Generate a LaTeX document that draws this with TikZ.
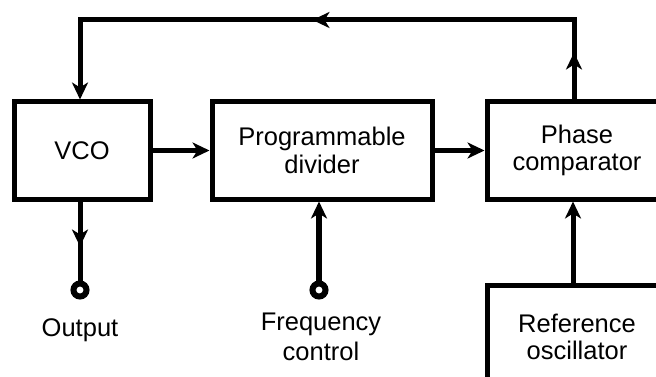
\documentclass[tikz,border=0pt]{standalone}
\usepackage{fontspec}
\setmainfont{Liberation Sans}
\usetikzlibrary{arrows.meta,decorations.markings}
\begin{document}
\begin{tikzpicture}[x=1pt,y=-1pt,
  blk/.style={draw, line width=5pt, rectangle, align=center, inner sep=0pt,
    font=\fontsize{25.5}{27.5}\selectfont},
  lbl/.style={align=center, inner sep=0pt, font=\fontsize{25.5}{30}\selectfont},
  wire/.style={line width=5pt},
  tip/.style={-{Stealth[length=17pt,width=16pt,inset=5pt]}},
  terminal/.style={circle, draw, line width=6pt, minimum size=13pt, inner sep=0pt, fill=white}
]
\clip (0,0) rectangle (656,377);
\fill[white] (0,0) rectangle (656,377);
\node[blk, minimum width=136pt, minimum height=97pt] (vco) at (82,150.5) {VCO};
\node[blk, minimum width=220pt, minimum height=97pt] (div) at (322,150.5) {Programmable\\divider};
\node[blk, minimum width=180pt, minimum height=97pt] (pc) at (577,150.5) {Phase\\comparator};
\node[blk, minimum width=180pt, minimum height=104pt] (ref) at (577,337) {Reference\\oscillator};
\node[terminal] (out) at (80,290) {};
\node[terminal] (fc) at (319,290) {};
\node[lbl] (outl) at (80,330) {Output};
\node[lbl] (fcl) at (321,337) {Frequency\\control};
\coordinate (c1) at (574,20);
\coordinate (c2) at (80,20);
% feedback loop
\draw[wire, tip, postaction={decorate}, decoration={markings,
   mark=at position 47pt with {\arrow{Stealth[length=17pt,width=16pt,inset=5pt]}},
   mark=at position 341pt with {\arrow{Stealth[length=17pt,width=16pt,inset=5pt]}}}]
  (pc.north -| c1) -- (c1) -- (c2) -- (vco.north -| c2);
% forward path
\draw[wire, tip] (vco.east) -- (div.west);
\draw[wire, tip] (div.east) -- (pc.west);
% output
\draw[wire, postaction={decorate}, decoration={markings,
   mark=at position 45pt with {\arrow{Stealth[length=17pt,width=16pt,inset=5pt]}}}]
  (vco.south -| out) -- (out.north);
% frequency control
\draw[line width=6pt, tip] (fc.north) -- (div.south -| fc);
% reference
\draw[wire, tip] (ref.north -| 573,0) -- (pc.south -| 573,0);
\end{tikzpicture}
\end{document}
